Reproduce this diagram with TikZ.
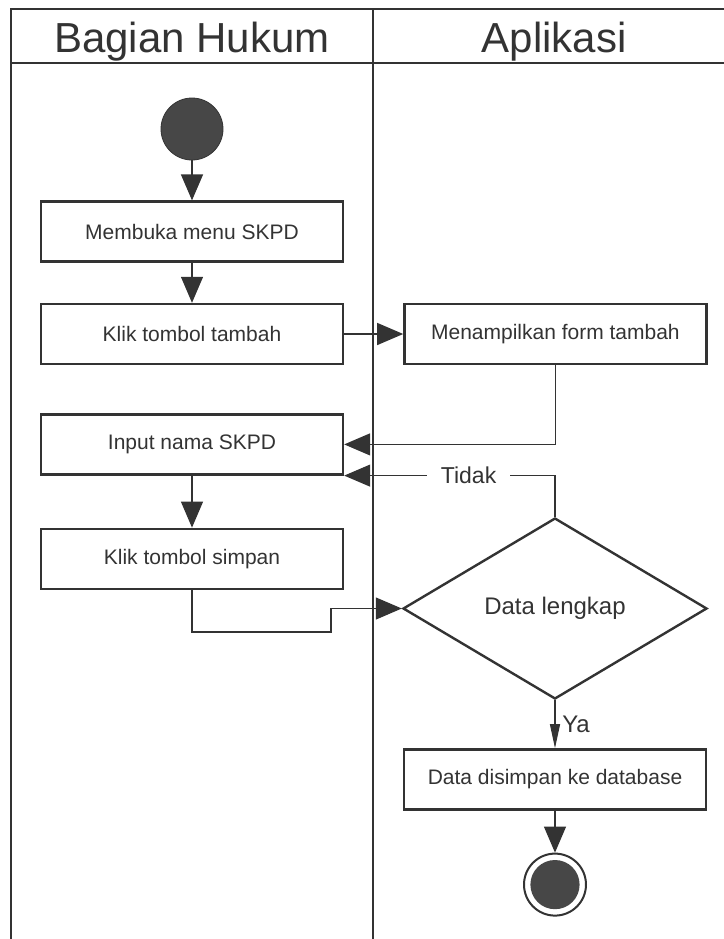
\documentclass[tikz,border=0pt]{standalone}
\usepackage{fontspec}
\setmainfont{Liberation Sans}
\usetikzlibrary{positioning, shapes.geometric, arrows.meta}
\definecolor{ink}{HTML}{333333}
\definecolor{dot}{HTML}{474747}

\begin{document}
\begin{tikzpicture}[
  x=0.5pt, y=-0.5pt,
  node distance=20pt and 29.5pt,
  lane/.style={line width=1.3pt, draw=ink},
  head/.style={font=\fontsize{21}{24}\selectfont, text=ink, anchor=base},
  box/.style={rectangle, draw=ink, line width=1.2pt, minimum width=151pt, minimum height=30pt, align=center, font=\fontsize{10.5}{12}\selectfont, text=ink},
  decision/.style={diamond, draw=ink, line width=1.2pt, minimum width=152pt, minimum height=90.5pt, aspect=1.68, inner sep=0pt, font=\fontsize{12}{14}\selectfont, text=ink},
  startnode/.style={circle, fill=dot, draw=ink, minimum size=31pt, inner sep=0pt},
  endnode/.style={circle, draw=ink, line width=1pt, minimum size=31pt, inner sep=0pt, path picture={\fill[dot] (path picture bounding box.center) circle (12.3pt);}},
  arrow/.style={-{Triangle[length=13pt, width=11pt]}, line width=0.6pt, draw=ink},
  narrow/.style={-{Triangle[length=12pt, width=5pt]}, line width=0.6pt, draw=ink},
  cond/.style={fill=white, font=\fontsize{11.5}{13}\selectfont, text=ink, inner xsep=7pt}
]
\useasboundingbox (0,0) rectangle (724,939);

% Swimlanes
\draw[lane] (11,939) -- (11,9) -- (724,9);
\draw[lane] (11,63) -- (724,63);
\draw[lane] (373,9) -- (373,939);
\node[head] (hukum) at (192,52) {Bagian Hukum};
\node[head] (aplikasi) at (554,52) {Aplikasi};

% Bagian Hukum
\node[startnode] (start) at (192,129) {};
\node[box, below=20pt of start] (menu) {Membuka menu SKPD};
\node[box, below=of menu] (tambah) {Klik tombol tambah};
\node[box, below=24pt of tambah] (input) {Input nama SKPD};
\node[box, below=26pt of input] (simpan) {Klik tombol simpan};

% Aplikasi
\node[box, right=of tambah] (form) {Menampilkan form tambah};
\node[decision] (lengkap) at (555,608.5) {Data lengkap};
\node[box, below=24pt of lengkap] (database) {Data disimpan ke database};
\node[endnode, below=21pt of database] (finish) {};

% Arrows
\draw[arrow] (start) -- (menu);
\draw[arrow] (menu) -- (tambah);
\draw[arrow] (tambah) -- (form);
\draw[arrow] (form.south) |- (input.east);
\draw[arrow] (lengkap.north) |- node[cond, pos=0.705] {Tidak} (input.south east);
\draw[arrow] (input) -- (simpan);
\draw[arrow] (simpan.south) |- ++(139,42) |- (lengkap.west);
\draw[narrow] (lengkap.south) -- node[right, font=\fontsize{12}{14}\selectfont, text=ink] (ya) {Ya} (database.north);
\draw[arrow] (database) -- (finish);

\end{tikzpicture}
\end{document}
